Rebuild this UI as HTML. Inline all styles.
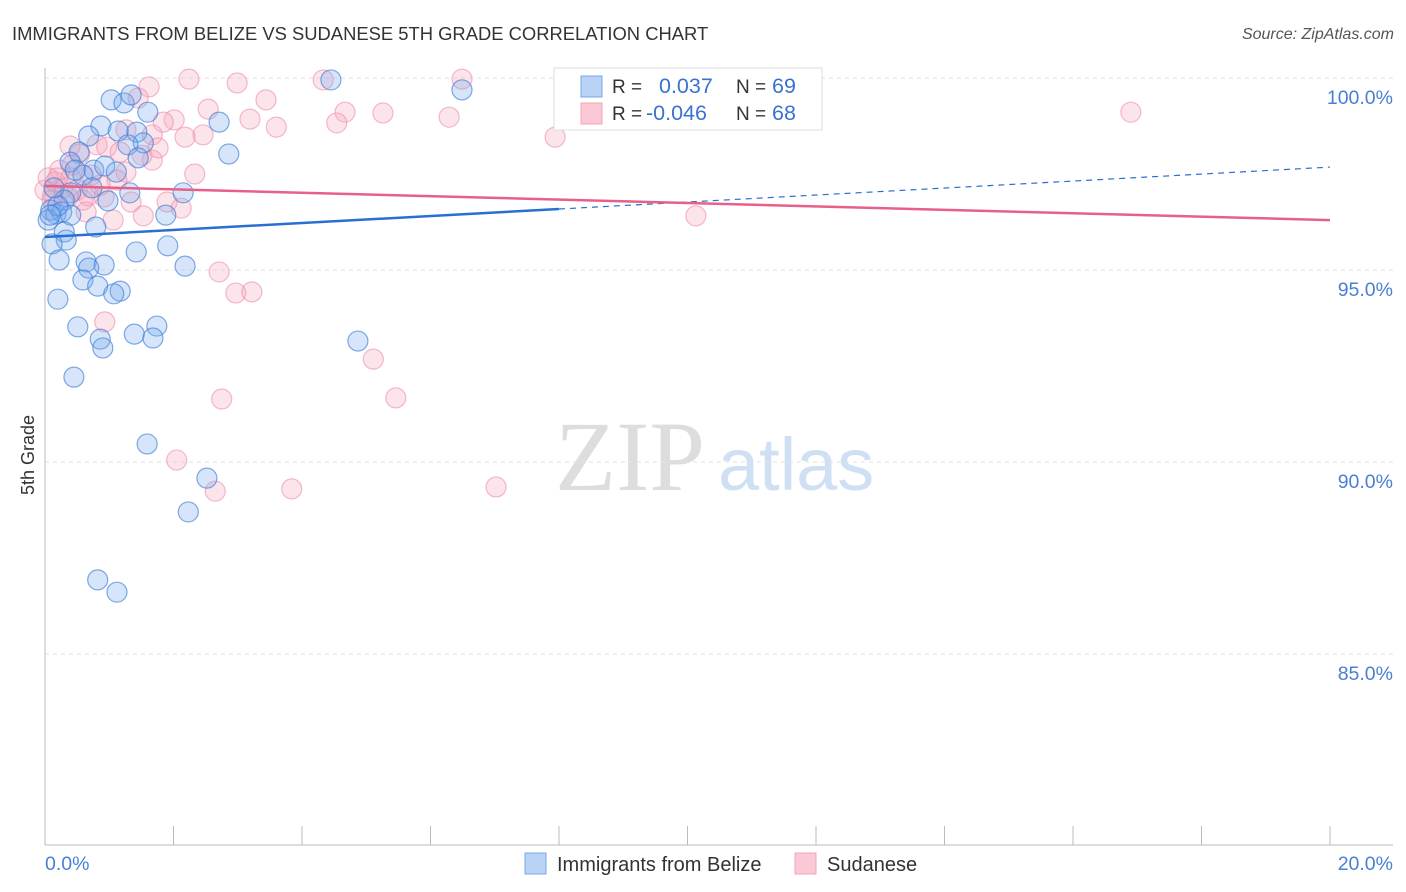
<!DOCTYPE html>
<html><head><meta charset="utf-8"><style>
body{margin:0;background:#fff;font-family:"Liberation Sans",sans-serif}
svg{display:block}
</style></head><body>
<svg width="1406" height="892" id="chart" xmlns="http://www.w3.org/2000/svg">
<text x="12" y="40" font-size="18.4" fill="#333">IMMIGRANTS FROM BELIZE VS SUDANESE 5TH GRADE CORRELATION CHART</text>
<text x="1394" y="39" font-size="16" fill="#555" font-style="italic" text-anchor="end">Source: ZipAtlas.com</text>
<g>
<text x="555" y="490" font-size="100" font-family="Liberation Serif,serif" fill="#ddd">ZIP</text>
<text x="718" y="490" font-size="74" fill="#cfe0f4">atlas</text>
</g>
<g id="grid"></g>
<g id="ticks"></g>
<line x1="45" y1="68" x2="45" y2="845" stroke="#bbb"/>
<line x1="45" y1="845" x2="1393" y2="845" stroke="#bbb"/>
<text x="0" y="0" transform="translate(34,455) rotate(-90)" font-size="18" fill="#333" text-anchor="middle">5th Grade</text>
<text x="45" y="870" font-size="19.5" fill="#4a7fd4">0.0%</text>
<text x="1393" y="870" font-size="19.5" fill="#4a7fd4" text-anchor="end">20.0%</text>
<g id="pts"></g>
<g id="trends"></g>
<g>
<rect x="554" y="68" width="268" height="62" fill="#fff" stroke="#ddd"/>
<rect x="581" y="76" width="21" height="21" fill="#b8d3f5" stroke="#7aa8e8"/>
<rect x="581" y="103" width="21" height="21" fill="#fbc8d6" stroke="#f2a5ba"/>
<text x="612" y="93" font-size="19" fill="#333">R =</text>
<text x="659" y="93" font-size="21.5" fill="#3a72d0">0.037</text>
<text x="736" y="93" font-size="19" fill="#333">N =</text>
<text x="772" y="93" font-size="21.5" fill="#3a72d0">69</text>
<text x="612" y="120" font-size="19" fill="#333">R =</text>
<text x="646" y="120" font-size="21.5" fill="#3a72d0">-0.046</text>
<text x="736" y="120" font-size="19" fill="#333">N =</text>
<text x="772" y="120" font-size="21.5" fill="#3a72d0">68</text>
</g>
<g>
<rect x="525" y="853" width="21" height="21" fill="#b8d3f5" stroke="#7aa8e8"/>
<text x="557" y="871" font-size="20" fill="#333">Immigrants from Belize</text>
<rect x="795" y="853" width="21" height="21" fill="#fbc8d6" stroke="#f2a5ba"/>
<text x="827" y="871" font-size="20" fill="#333">Sudanese</text>
</g>
</svg>
<script>
const yTicks=[100,95,90,85];
const yTickLabels=["100.0%","95.0%","90.0%","85.0%"];
const xTicks=[0,2,4,6,8,10,12,14,16,18,20];
const blueX=[4.45,6.49,1.03,1.23,1.34,1.60,2.71,0.87,0.68,1.14,1.43,1.53,1.29,2.86,0.53,0.39,0.76,0.93,1.11,0.59,0.47,0.73,0.40,0.30,0.98,2.15,1.32,1.88,0.09,0.17,0.26,0.40,0.05,0.79,0.30,0.33,0.11,1.91,1.42,0.22,0.64,0.92,0.68,2.18,0.59,0.82,1.17,1.07,0.20,0.51,1.74,1.39,1.68,0.86,0.90,4.87,0.45,1.59,2.52,2.23,0.82,1.12,0.20,0.08,1.45,0.14];
const blueY=[99.95,99.69,99.43,99.35,99.56,99.11,98.85,98.75,98.49,98.62,98.59,98.31,98.26,98.02,98.07,97.81,97.60,97.71,97.55,97.47,97.60,97.14,97.01,96.82,96.80,97.01,97.01,96.43,96.56,96.46,96.51,96.43,96.30,96.12,95.99,95.78,95.68,95.63,95.47,95.26,95.21,95.13,95.05,95.10,94.74,94.58,94.45,94.38,94.24,93.52,93.54,93.33,93.23,93.20,92.97,93.15,92.21,90.47,89.58,88.70,86.93,86.61,96.67,96.43,97.92,97.14];
const pinkX=[2.24,2.99,4.33,6.49,1.62,3.44,2.54,4.67,5.26,6.29,16.90,1.45,2.01,1.84,3.19,3.60,4.54,2.46,2.18,1.26,1.67,7.94,0.39,0.81,0.96,1.17,1.67,0.54,2.33,0.23,0.40,0.72,1.26,1.12,0.16,0.28,0.50,0.12,0.36,0.67,0.92,1.34,1.90,2.12,0.64,1.06,1.53,0.11,10.13,2.71,2.97,3.22,0.93,5.11,2.75,5.46,2.05,2.65,3.84,7.02,0.0,0.05,0.86,0.20,0.59,1.51,0.42,1.76];
const pinkY=[99.97,99.87,99.95,99.97,99.77,99.43,99.19,99.11,99.09,98.98,99.11,99.48,98.91,98.85,98.93,98.72,98.83,98.52,98.46,98.65,98.52,98.46,98.23,98.26,98.20,98.07,97.86,98.02,97.50,97.60,97.40,97.47,97.55,97.34,97.29,97.14,97.08,96.95,96.90,96.93,96.90,96.77,96.77,96.61,96.51,96.30,96.41,96.82,96.41,94.95,94.40,94.43,93.65,92.68,91.64,91.67,90.05,89.24,89.30,89.35,97.08,97.40,97.21,97.40,96.82,97.99,97.73,98.18];
const blueTrend=[95.86,97.68];
const pinkTrend=[97.19,96.30];
const NS="http://www.w3.org/2000/svg";
const sx=v=>45+v*64.25;
const sy=v=>78+(100-v)*38.4;
function mk(tag,attrs,parent){const e=document.createElementNS(NS,tag);for(const k in attrs)e.setAttribute(k,attrs[k]);document.getElementById(parent).appendChild(e);return e;}
yTicks.forEach((t,i)=>{
 const l=mk('line',{x1:45,x2:1393,y1:sy(t),y2:sy(t),stroke:'#e2e2e2','stroke-dasharray':'4,4'},'grid');
 
 
 const tx=mk('text',{x:1393,y:sy(t)+26,'font-size':19.5,fill:'#4a7fd4','text-anchor':'end'},'grid');
 tx.textContent=yTickLabels[i];
 
 
});
xTicks.forEach(t=>{
 const l=mk('line',{x1:sx(t),x2:sx(t),y1:826,y2:845,stroke:'#bbb'},'ticks');
 
 
});
function pts(X,Y,fill,stroke,name){X.forEach((x,i)=>{
 const c=mk('circle',{cx:sx(x),cy:sy(Y[i]),r:10,fill:fill,stroke:stroke,'stroke-width':1.2},'pts');
 
 
});}
pts(pinkX,pinkY,'rgba(246,165,190,0.3)','rgba(236,140,172,0.6)','sudanese-point');
pts(blueX,blueY,'rgba(120,170,235,0.3)','rgba(60,125,215,0.65)','belize-point');
const bt=v=>blueTrend[0]+(blueTrend[1]-blueTrend[0])*v/20;
let e=mk('line',{x1:sx(0),y1:sy(bt(0)),x2:sx(8),y2:sy(bt(8)),stroke:'#2a6fd0','stroke-width':2.5},'trends');


e=mk('line',{x1:sx(8),y1:sy(bt(8)),x2:sx(20),y2:sy(bt(20)),stroke:'#2a6fd0','stroke-width':1.2,'stroke-dasharray':'6,5'},'trends');


e=mk('line',{x1:sx(0),y1:sy(pinkTrend[0]),x2:sx(20),y2:sy(pinkTrend[1]),stroke:'#e8608a','stroke-width':2.5},'trends');


</script>
</body></html>
